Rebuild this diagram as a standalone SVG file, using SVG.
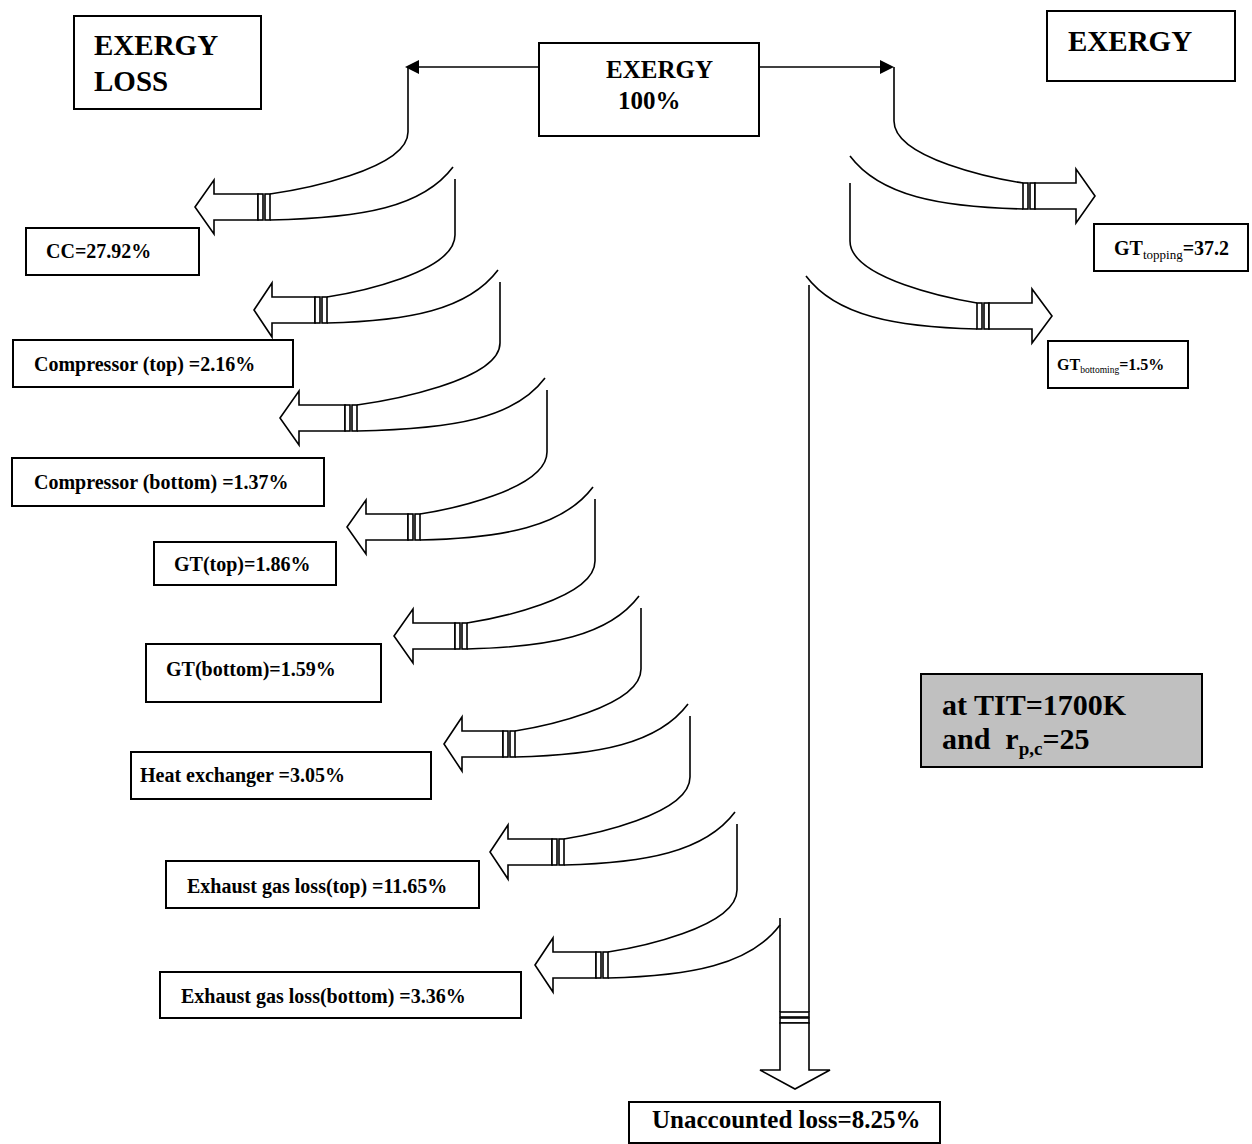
<svg xmlns="http://www.w3.org/2000/svg" width="1252" height="1144" viewBox="0 0 1252 1144">
<style>
.box{fill:#fff;stroke:#000;stroke-width:2}
.gray{fill:#c0c0c0;stroke:#000;stroke-width:2}
.t{font-family:"Liberation Serif","Times New Roman",serif;font-weight:bold;fill:#000}
.ln{fill:none;stroke:#000;stroke-width:1.6}
.ar{fill:#fff;stroke:#000;stroke-width:1.6;stroke-linejoin:miter}
.hd{fill:#000;stroke:none}
</style>
<rect width="1252" height="1144" fill="#fff"/>

<g id="exergy-loss"><rect class="box" x="74" y="16" width="187" height="93"/><text class="t" font-size="29" x="94" y="55">EXERGY</text><text class="t" font-size="29" x="94" y="91">LOSS</text></g>
<g id="exergy-100"><rect class="box" x="539" y="43" width="220" height="93"/><text class="t" font-size="25" x="606" y="78">EXERGY</text><text class="t" font-size="25" x="618" y="109">100%</text></g>
<g id="exergy"><rect class="box" x="1047" y="11" width="188" height="70"/><text class="t" font-size="29" x="1068" y="51">EXERGY</text></g>
<g id="cc"><rect class="box" x="26" y="228" width="173" height="47"/><text class="t" font-size="20" x="46" y="258">CC=27.92%</text></g>
<g id="comp-top"><rect class="box" x="13" y="340" width="280" height="47"/><text class="t" font-size="20" x="34" y="371">Compressor (top) =2.16%</text></g>
<g id="comp-bottom"><rect class="box" x="12" y="458" width="312" height="48"/><text class="t" font-size="20" x="34" y="489">Compressor (bottom) =1.37%</text></g>
<g id="gt-top"><rect class="box" x="154" y="542" width="182" height="43"/><text class="t" font-size="20" x="174" y="571">GT(top)=1.86%</text></g>
<g id="gt-bottom"><rect class="box" x="146" y="644" width="235" height="58"/><text class="t" font-size="20" x="166" y="676">GT(bottom)=1.59%</text></g>
<g id="heat-exchanger"><rect class="box" x="131" y="752" width="300" height="47"/><text class="t" font-size="20" x="140" y="782">Heat exchanger =3.05%</text></g>
<g id="exhaust-top"><rect class="box" x="166" y="861" width="313" height="47"/><text class="t" font-size="20" x="187" y="893">Exhaust gas loss(top) =11.65%</text></g>
<g id="exhaust-bottom"><rect class="box" x="160" y="972" width="361" height="46"/><text class="t" font-size="20" x="181" y="1003">Exhaust gas loss(bottom) =3.36%</text></g>
<g id="gt-topping"><rect class="box" x="1094" y="224" width="154" height="47"/><text class="t" x="1114" y="255"><tspan font-size="20">GT</tspan><tspan font-size="13" font-weight="normal" dy="4">topping</tspan><tspan font-size="20" dy="-4">=37.2</tspan></text></g>
<g id="gt-bottoming"><rect class="box" x="1048" y="341" width="140" height="47"/><text class="t" x="1057" y="370"><tspan font-size="16">GT</tspan><tspan font-size="9.5" font-weight="normal" dy="3">bottoming</tspan><tspan font-size="16" dy="-3">=1.5%</tspan></text></g>
<g id="unaccounted"><rect class="box" x="629" y="1102" width="311" height="41"/><text class="t" font-size="25" x="652" y="1128">Unaccounted loss=8.25%</text></g>
<g id="conditions"><rect class="gray" x="921" y="674" width="281" height="93"/><text class="t" font-size="30" x="942" y="715">at TIT=1700K</text><text class="t" font-size="30" x="942" y="749">and&#160; r<tspan font-size="19" dy="6">p,c</tspan><tspan dy="-6">=25</tspan></text></g>

<g id="connectors">
<!-- top arrows -->
<path class="ln" d="M539,67 H419"/><polygon class="hd" points="405,67 419,60 419,74"/>
<path class="ln" d="M759,67 H880"/><polygon class="hd" points="894,67 880,60 880,74"/>

<!-- upper curves (left) -->
<path class="ln" d="M408,67 V132 C408,170 298,190 270,194"/>
<path class="ln" d="M455,179 V235 C455,273 353,293 327,297"/>
<path class="ln" d="M500,282 V343 C500,381 386,401 357,405"/>
<path class="ln" d="M547,390 V452 C547,490 446,510 420,514"/>
<path class="ln" d="M595,499 V561 C595,599 493,619 467,623"/>
<path class="ln" d="M641,608 V669 C641,707 540,727 515,731"/>
<path class="ln" d="M690,716 V777 C690,815 589,835 564,839"/>
<path class="ln" d="M737,824 V890 C737,928 634,948 608,952"/>

<!-- lower curves (left) -->
<path class="ln" d="M453,167 C423,207 363,218 270,220"/>
<path class="ln" d="M498,270 C468,310 408,321 327,323"/>
<path class="ln" d="M545,378 C515,418 455,429 357,431"/>
<path class="ln" d="M593,487 C563,527 503,538 420,540"/>
<path class="ln" d="M639,596 C609,636 549,647 467,649"/>
<path class="ln" d="M688,704 C658,744 598,755 515,757"/>
<path class="ln" d="M735,812 C705,852 645,863 564,865"/>
<path class="ln" d="M780,925 C750,965 690,976 608,978"/>

<!-- left arrows -->
<polygon class="ar" points="195,207 214,180 214,194 258,194 258,220 214,220 214,234"/>
<rect class="ar" x="258" y="194" width="5" height="26"/><rect class="ar" x="265" y="194" width="5" height="26"/>
<polygon class="ar" points="254,310 272,283 272,297 315,297 315,323 272,323 272,337"/>
<rect class="ar" x="315" y="297" width="5" height="26"/><rect class="ar" x="322" y="297" width="5" height="26"/>
<polygon class="ar" points="280,418 299,391 299,405 345,405 345,431 299,431 299,445"/>
<rect class="ar" x="345" y="405" width="5" height="26"/><rect class="ar" x="352" y="405" width="5" height="26"/>
<polygon class="ar" points="347,527 366,500 366,514 408,514 408,540 366,540 366,554"/>
<rect class="ar" x="408" y="514" width="5" height="26"/><rect class="ar" x="415" y="514" width="5" height="26"/>
<polygon class="ar" points="394,636 413,609 413,623 455,623 455,649 413,649 413,663"/>
<rect class="ar" x="455" y="623" width="5" height="26"/><rect class="ar" x="462" y="623" width="5" height="26"/>
<polygon class="ar" points="444,744 462,717 462,731 503,731 503,757 462,757 462,771"/>
<rect class="ar" x="503" y="731" width="5" height="26"/><rect class="ar" x="510" y="731" width="5" height="26"/>
<polygon class="ar" points="490,852 508,825 508,839 552,839 552,865 508,865 508,879"/>
<rect class="ar" x="552" y="839" width="5" height="26"/><rect class="ar" x="559" y="839" width="5" height="26"/>
<polygon class="ar" points="535,965 553,938 553,952 596,952 596,978 553,978 553,992"/>
<rect class="ar" x="596" y="952" width="5" height="26"/><rect class="ar" x="603" y="952" width="5" height="26"/>

<!-- right side -->
<path class="ln" d="M894,67 V121 C894,159 997,179 1023,183"/>
<path class="ln" d="M850,156 C880,196 940,207 1023,209"/>
<path class="ln" d="M850,183 V241 C850,279 953,299 977,303"/>
<path class="ln" d="M806,276 C836,316 896,327 977,329"/>
<rect class="ar" x="1023" y="183" width="5" height="26"/><rect class="ar" x="1030" y="183" width="5" height="26"/>
<polygon class="ar" points="1095,196 1076,169 1076,183 1035,183 1035,209 1076,209 1076,223"/>
<rect class="ar" x="977" y="303" width="5" height="26"/><rect class="ar" x="984" y="303" width="5" height="26"/>
<polygon class="ar" points="1052,316 1032,289 1032,303 989,303 989,329 1032,329 1032,343"/>

<!-- down arrow -->
<path class="ln" d="M809,285 V1012"/>
<path class="ln" d="M780,918 V1012"/>
<rect class="ar" x="780" y="1012" width="29" height="5"/><rect class="ar" x="780" y="1018" width="29" height="5"/>
<polygon class="ar" points="780,1023 780,1070 760,1070 795,1089 830,1070 809,1070 809,1023"/>
</g>
</svg>
